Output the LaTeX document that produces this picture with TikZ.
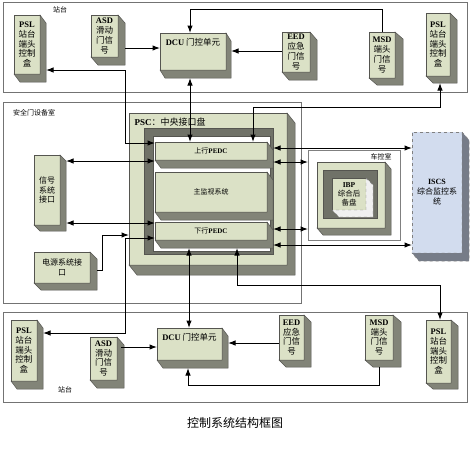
\documentclass[tikz,border=0pt]{standalone}
\usepackage{fontspec}
\setmainfont{Liberation Serif}
\newfontfamily\cjk{Noto Sans CJK SC}
\usetikzlibrary{arrows.meta}
\newcommand{\en}[1]{{\rmfamily\bfseries #1}}
\definecolor{facegreen}{RGB}{219,225,198}
\definecolor{sidegray}{RGB}{130,132,120}
\definecolor{framegray}{RGB}{112,114,104}
\definecolor{iscsblue}{RGB}{210,220,238}
\definecolor{iscsdepth}{RGB}{118,124,136}
\definecolor{edgegray}{RGB}{85,85,80}
\tikzset{
  face/.style={draw=edgegray, fill=facegreen, line width=0.5pt, inner sep=0pt, outer sep=0pt,
    align=center, font=\cjk\fontsize{8.5}{9.8}\selectfont},
  side/.style={draw=edgegray, fill=sidegray, line width=0.5pt},
  room/.style={draw=black!55, line width=0.7pt},
  roomlabel/.style={font=\cjk\fontsize{7}{8}\selectfont},
  small/.style={font=\cjk\fontsize{7}{9}\selectfont},
  link/.style={line width=1pt}
}

\begin{document}
\begin{tikzpicture}[x=1pt, y=-1pt, >={Latex[length=7.5pt,width=5.5pt]}]
    \useasboundingbox (0,0) rectangle (471,450);

    % rooms
    \draw[room] (3,2) rectangle (467,92);
    \draw[room] (3,102) rectangle (301,303);
    \draw[room] (3,312) rectangle (467,402);
    \node[roomlabel] (lbltop) at (60,10) {站台};
    \node[roomlabel] (lblroom) at (34,113) {安全门设备室};
    \node[roomlabel] (lblbot) at (65,390) {站台};

    % upper platform
    \node[face, minimum width=26, minimum height=59] (psltl) at (27,44.5) {\en{PSL}\\站台\\端头\\控制\\盒};
    \node[face, minimum width=27, minimum height=42] (asdt) at (104.5,36) {\en{ASD}\\滑动\\门信\\号};
    \node[face, minimum width=66, minimum height=37, text depth=20pt] (dcut) at (193,51.5) {\en{DCU} 门控单元};
    \node[face, minimum width=28, minimum height=40] (eedt) at (296,52) {\en{EED}\\应急\\门信\\号};
    \node[face, minimum width=26, minimum height=46] (msdt) at (382,55) {\en{MSD}\\端头\\门信\\号};
    \node[face, minimum width=24, minimum height=63] (psltr) at (438,44.5) {\en{PSL}\\站台\\端头\\控制\\盒};

    % lower platform
    \node[face, minimum width=26, minimum height=61] (pslbl) at (24,350.5) {\en{PSL}\\站台\\端头\\控制\\盒};
    \node[face, minimum width=27, minimum height=43] (asdb) at (103.5,358.5) {\en{ASD}\\滑动\\门信\\号};
    \node[face, minimum width=65, minimum height=32, text depth=15pt] (dcub) at (189.5,344) {\en{DCU} 门控单元};
    \node[face, minimum width=25, minimum height=45] (eedb) at (291.5,337.5) {\en{EED}\\应急\\门信\\号};
    \node[face, minimum width=28, minimum height=45] (msdb) at (379,337.5) {\en{MSD}\\端头\\门信\\号};
    \node[face, minimum width=25, minimum height=63] (pslbr) at (438.5,351.5) {\en{PSL}\\站台\\端头\\控制\\盒};

    % interfaces
    \node[face, font=\cjk\fontsize{8}{9.5}\selectfont, minimum width=26, minimum height=70] (sig) at (47,190) {信号\\系统\\接口};
    \node[face, font=\cjk\fontsize{8}{10}\selectfont, minimum width=56, minimum height=31] (pwr) at (62,267.5) {电源系统接\\口};

    % PSC
    \node[face, minimum width=158, minimum height=152] (psc) at (208,189) {};
    \filldraw[draw=edgegray, fill=framegray] (144,128) rectangle (273,254);
    \filldraw[draw=edgegray, fill=white] (153,136) rectangle (270,251);
    \node[anchor=west, font=\cjk\fontsize{9}{10}\selectfont] (psclabel) at (131,122) {\en{PSC}：中央接口盘};
    \node[face, small, minimum width=112, minimum height=18] (up) at (211,151) {上行\en{PEDC}};
    \node[face, small, minimum width=112, minimum height=40] (mon) at (211,192) {主监视系统};
    \node[face, small, minimum width=112, minimum height=18] (dn) at (211,231) {下行\en{PEDC}};

    % control room
    \node[room, draw=black!50, minimum width=92, minimum height=90, inner sep=0pt, outer sep=0pt] (ckr) at (354,195) {};
    \node[roomlabel] (lblckr) at (381,157) {车控室};
    \node[face, minimum width=68, minimum height=66] (ibpo) at (351,195) {};
    \filldraw[draw=edgegray, fill=framegray] (323,170) rectangle (377,218);
    \node[face, font=\cjk\fontsize{7.5}{9}\selectfont, minimum width=34, minimum height=32] (ibp) at (349,194) {\en{IBP}\\综合后\\备盘};
    \filldraw[draw=gray, dashed, fill=gray!12] (ibp.north east) -- ++(7,7) -- ([shift={(7,7)}]ibp.south east)
        -- ([shift={(7,7)}]ibp.south west) -- (ibp.south west) -- (ibp.south east) -- cycle;

    % ISCS
    \node[face, fill=iscsblue, draw=gray, dashed, font=\cjk\fontsize{8}{10}\selectfont, minimum width=50, minimum height=121] (iscs) at (437,192.5) {\en{ISCS}\\综合监控系\\统};
    \filldraw[side, fill=iscsdepth, dashed, draw=gray] (iscs.north east) -- ++(7,8) -- ([shift={(7,8)}]iscs.south east)
        -- ([shift={(7,8)}]iscs.south west) -- (iscs.south west) -- (iscs.south east) -- cycle;

    % depth of the boxes
    \foreach \b/\dx/\dy in {psltl/6/8, asdt/7/8, dcut/5/8, eedt/7/8, msdt/8/7, psltr/7/7,
        pslbl/6/8, asdb/7/8, dcub/6/8, eedb/7/7, msdb/8/7, pslbr/7/6,
        sig/6/6, pwr/7/7, psc/8/10, up/6/8, mon/6/8, dn/6/8, ibpo/6/7}
        {\filldraw[side] (\b.north east) -- ++(\dx,\dy) -- ([shift={(\dx,\dy)}]\b.south east)
            -- ([shift={(\dx,\dy)}]\b.south west) -- (\b.south west) -- (\b.south east) -- cycle;}

    % upper connectors
    \draw[link,->] ([xshift=7pt]asdt.east |- 0,48) -- (dcut.west |- 0,48);
    \draw[link,->] (eedt.west |- 0,51) -- ([xshift=5pt]dcut.east |- 0,51);
    \draw[link,->] (msdt.north) |- (190,9) -- (190,0 |- dcut.north);
    \draw[link,<->] ([xshift=6pt]psltl.east |- 0,70) -- (125,70) -- (125,143) -- (up.west |- 0,143);
    \draw[link,<->] ([yshift=-8pt]dcut.south -| 190,0) -- (190,0 |- up.north);
    \draw[link,<->] (253,0 |- up.north) -- (253,107) -- (440,107) -- ([yshift=-7pt]psltr.south -| 440,0);

    % interface connectors
    \draw[link,<->] ([xshift=6pt]sig.east |- 0,161) -- (up.west |- 0,161);
    \draw[link,<->] ([xshift=6pt]sig.east |- 0,223) -- (dn.west |- 0,223);
    \draw[link,->] ([xshift=7pt]pwr.east |- 0,270) -- (102,270) -- (102,235) -- (psc.west |- 0,235);

    % right side connectors
    \draw[link,<->] ([xshift=6pt]up.east |- 0,148) -- (iscs.west |- 0,148);
    \draw[link,<->] ([xshift=6pt]up.east |- 0,162) -- (ckr.west |- 0,162);
    \draw[link,<->] ([xshift=6pt]dn.east |- 0,229) -- (ckr.west |- 0,229);
    \draw[link,<->] ([xshift=6pt]dn.east |- 0,245) -- (iscs.west |- 0,245);

    % lower connectors
    \draw[link,<->] (dn.west |- 0,238) -- (125,238) -- (125,333) -- ([xshift=6pt]pslbl.east |- 0,333);
    \draw[link,<->] ([yshift=-8pt]dn.south -| 189,0) -- (189,0 |- dcub.north);
    \draw[link,<->] ([yshift=-8pt]dn.south -| 237,0) -- (237,285) -- (440,285) -- (440,0 |- pslbr.north);
    \draw[link,->] ([xshift=4pt]asdb.east |- 0,347) -- (dcub.west |- 0,347);
    \draw[link,->] (eedb.west |- 0,343) -- ([xshift=6pt]dcub.east |- 0,343);
    \draw[link,->] ([yshift=-7pt]msdb.south) |- (188,385) -- ([yshift=-8pt]dcub.south -| 188,0);

    \node[font=\cjk\fontsize{12}{14}\selectfont] (title) at (235,423) {控制系统结构框图};
\end{tikzpicture}
\end{document}
